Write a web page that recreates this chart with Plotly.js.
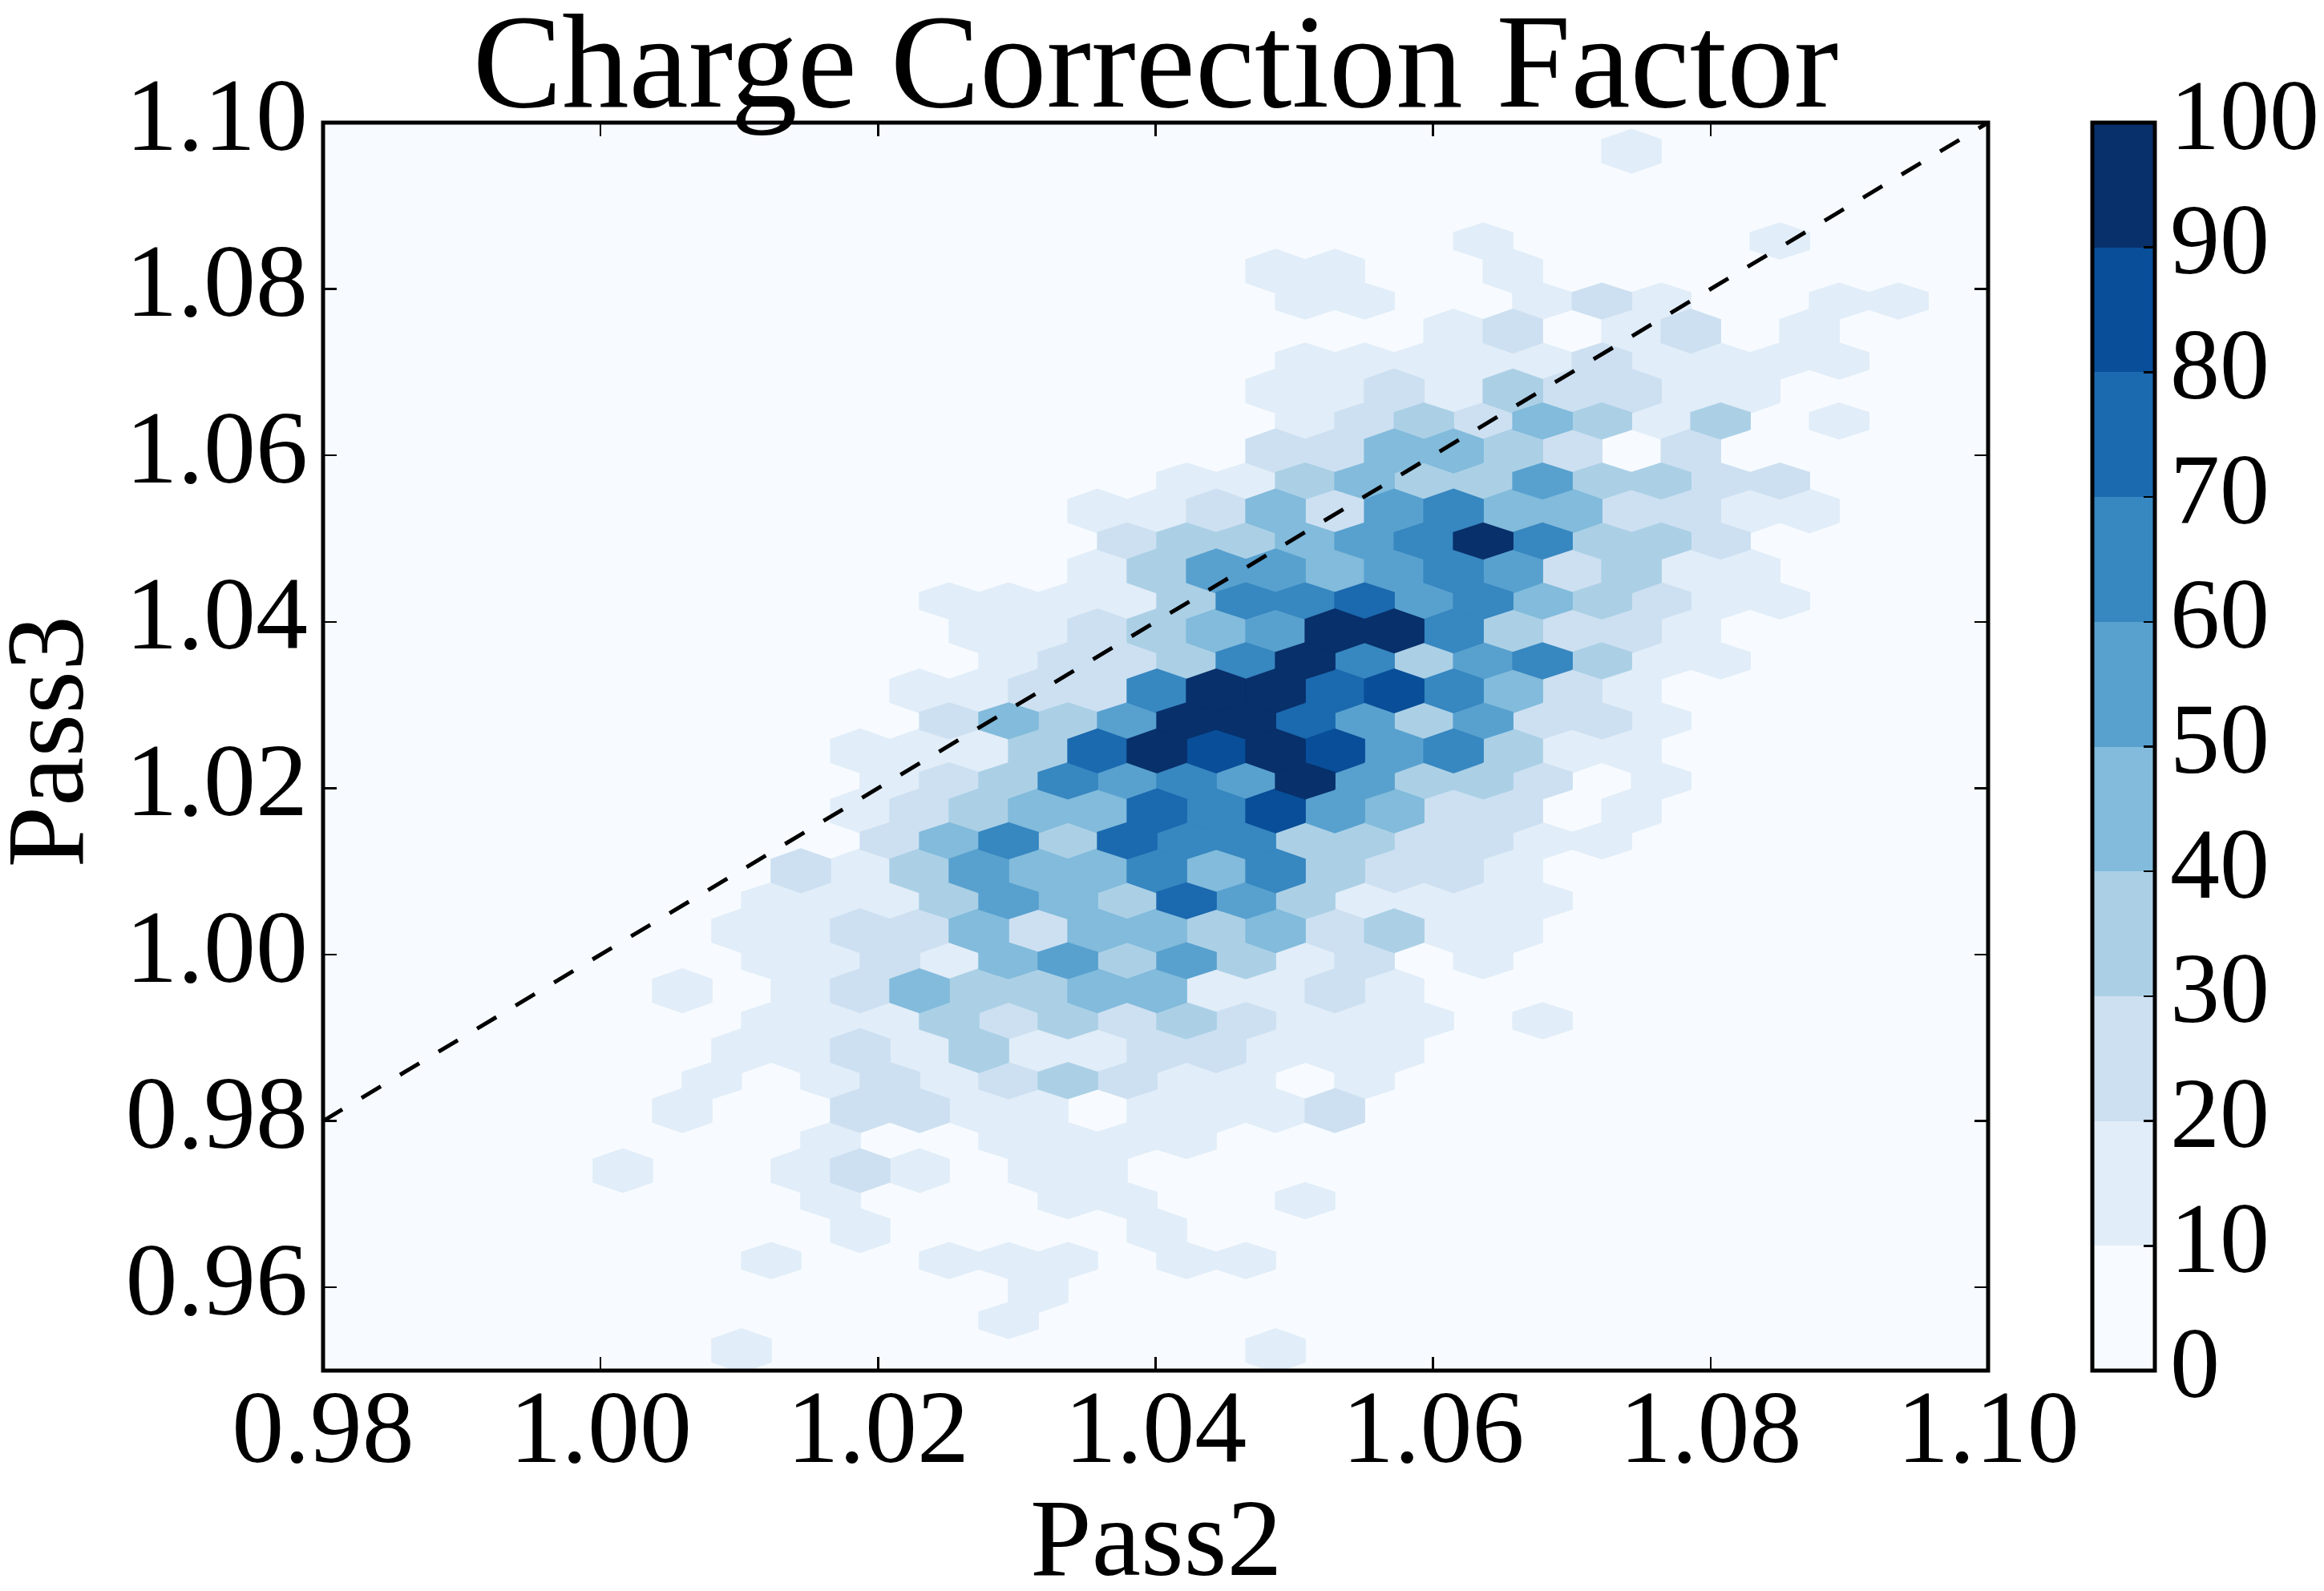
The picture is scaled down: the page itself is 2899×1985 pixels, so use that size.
<!DOCTYPE html>
<html>
<head>
<meta charset="utf-8">
<script src="https://cdn.plot.ly/plotly-3.0.1.min.js"></script>
<style>html,body{margin:0;padding:0;background:#fff}#chart{width:2899px;height:1985px}</style>
</head>
<body>
<div id="chart"></div>
<script>
const titleText = "Charge Correction Factor";
const xTitle = "Pass2";
const yTitle = "Pass3";
const xTicks = [0.98, 1.00, 1.02, 1.04, 1.06, 1.08, 1.10];
const yTicks = [0.96, 0.98, 1.00, 1.02, 1.04, 1.06, 1.08, 1.10];
const colorTicks = [0, 10, 20, 30, 40, 50, 60, 70, 80, 90, 100];
const binColors = ["#f7fbff","#e1edf8","#cde0f1","#abd0e6","#82bbdb","#58a1cf","#3787c0","#1b69af","#084e98","#08306b"];

// Hexbin lattice
const originX = 1.0743, originY = 1.09657;
const stepX = 0.002138, stepY = 0.003604;

// Row number, first column number in that row, and estimated count in every second column from there
const rowIndex = [0,3,4,5,6,7,8,9,10,11,12,13,14,15,16,17,18,19,20,21,22,23,24,25,26,27,28,29,30,31,32,33,34,35,36,37,38,39,40];
const rowFirstColumn = [0,-5,-12,-11,-6,-11,-12,-11,-12,-15,-18,-17,-18,-23,-22,-21,-24,-23,-26,-25,-26,-25,-28,-29,-30,-29,-32,-29,-30,-31,-32,-27,-34,-27,-26,-29,-20,-21,-30];
const rowCounts = [
 [15],
 [15,0,0,0,0,15],
 [15,15,0,0,15],
 [15,15,0,0,15,25,15,0,0,15,15],
 [15,25,0,15,25,0,15],
 [15,15,15,15,15,25,15,15,15,15],
 [15,15,25,15,35,25,25,15,15],
 [15,25,35,25,45,35,15,35,0,15],
 [25,25,45,45,35,25,0,25],
 [15,15,35,45,35,35,55,35,35,25,25],
 [15,15,25,45,25,55,65,45,45,25,25,15,15],
 [25,35,35,45,55,65,95,65,35,35,25],
 [15,35,55,55,45,55,65,55,25,35,15,15],
 [15,15,15,15,35,65,65,75,55,65,45,35,25,15,15],
 [15,15,25,35,45,55,95,95,65,35,25,25,15],
 [15,25,25,35,65,95,65,35,55,65,35,15,15],
 [15,15,25,25,65,95,95,75,85,65,45,25,15],
 [25,45,35,55,95,95,75,55,35,55,25,25,15],
 [15,15,15,35,75,95,85,95,85,55,65,35,15,15],
 [15,25,35,65,55,65,55,95,55,35,35,25,0,15],
 [15,25,35,45,45,75,65,85,55,45,25,25,0,15],
 [25,45,65,35,75,65,65,35,35,25,25,15,15],
 [25,15,35,55,45,45,65,45,65,35,25,25,15],
 [15,15,15,35,55,45,35,75,55,35,15,15,15,15],
 [15,15,25,25,45,25,45,45,35,45,25,35,15,15],
 [15,15,25,15,45,55,35,55,35,15,25,0,15],
 [15,0,15,25,45,35,35,45,45,15,15,25,15],
 [15,15,15,35,25,35,25,35,25,15,15,15,0,15],
 [15,15,25,15,35,15,15,25,25,15,15,15],
 [15,0,15,25,15,25,35,25,15,15,0,15],
 [15,0,0,25,25,15,15,0,15,15,15,25],
 [15,0,0,15,15,15,15],
 [15,0,0,15,25,15,0,15,15],
 [15,0,0,0,15,15,0,0,15],
 [15,0,0,0,0,15],
 [15,0,0,15,15,15,0,15,15],
 [15],
 [15],
 [15,0,0,0,0,0,0,0,0,15]
];

// Hexagon shape in data units; alternate rows differ slightly in the reference
const halfWidth = stepX;
const evenTip = 0.00263, evenSide = 0.00138;
const oddTip = 0.00216, oddSide = 0.00101;

const levelX = binColors.map(() => []);
const levelY = binColors.map(() => []);
const centerX = [], centerY = [], centerCount = [];

rowIndex.forEach((r, i) => {
  rowCounts[i].forEach((count, k) => {
    if (count < 10) return;
    const c = rowFirstColumn[i] + 2 * k;
    const cx = originX + c * stepX;
    const cy = originY - r * stepY;
    const tip = r % 2 === 0 ? evenTip : oddTip;
    const side = r % 2 === 0 ? evenSide : oddSide;
    const lv = Math.min(Math.floor(count / 10), binColors.length - 1);
    levelX[lv].push(cx + halfWidth, cx + halfWidth, cx, cx - halfWidth, cx - halfWidth, cx, cx + halfWidth, null);
    levelY[lv].push(cy - side, cy + side, cy + tip, cy + side, cy - side, cy - tip, cy - side, null);
    centerX.push(cx); centerY.push(cy); centerCount.push(count);
  });
});

const discreteScale = [];
binColors.forEach((col, i) => {
  discreteScale.push([i / binColors.length, col]);
  discreteScale.push([(i + 1) / binColors.length, col]);
});

const traces = [{
  type: "scatter", mode: "markers", x: centerX, y: centerY, hoverinfo: "skip", showlegend: false,
  marker: {
    size: 1, color: centerCount, cmin: 0, cmax: 100, colorscale: discreteScale, showscale: true,
    colorbar: {
      x: 1.0626, xref: "paper", xanchor: "left", xpad: 0, y: 0, yref: "paper", yanchor: "bottom", ypad: 0,
      len: 1, lenmode: "fraction", thickness: 77.5, thicknessmode: "pixels",
      outlinecolor: "#000", outlinewidth: 5, borderwidth: 0,
      tickmode: "array", tickvals: colorTicks, showticklabels: false,
      ticks: "inside", ticklen: 16, tickwidth: 2.5, tickcolor: "#000"
    }
  }
}];

binColors.forEach((col, i) => {
  if (levelX[i].length === 0) return;
  traces.push({
    type: "scatter", mode: "lines", x: levelX[i], y: levelY[i], fill: "toself", fillcolor: col,
    line: {color: col, width: 1.5}, hoverinfo: "skip", showlegend: false, connectgaps: false
  });
});

traces.push({
  type: "scatter", mode: "lines", x: [0.98, 1.10], y: [0.98, 1.10], hoverinfo: "skip", showlegend: false,
  line: {color: "#000", width: 5, dash: "28px,28px"}
});

const axisFont = {family: "Liberation Serif", size: 130, color: "#000"};
const axisTitleFont = {family: "Liberation Serif", size: 138, color: "#000"};

const colorLabels = colorTicks.map(v => ({
  text: String(v), xref: "paper", yref: "paper", x: 1.1087, y: v / 100, xanchor: "left", yanchor: "middle", yshift: 9,
  showarrow: false, borderpad: 0, font: {family: "Liberation Serif", size: 124, color: "#000"}
}));

const axisLabels = [
  {text: xTitle, xref: "paper", yref: "paper", x: 0.5, y: -0.1338, xanchor: "center", yanchor: "middle",
   showarrow: false, borderpad: 0, font: axisTitleFont},
  {text: yTitle, xref: "paper", yref: "paper", x: -0.167, y: 0.504, xanchor: "center", yanchor: "middle", textangle: -90,
   showarrow: false, borderpad: 0, font: axisTitleFont}
];

const layout = {
  width: 2899, height: 1985,
  paper_bgcolor: "#fff", plot_bgcolor: binColors[0],
  margin: {l: 403.2, r: 419.1, t: 152.5, b: 275.3, pad: 0, autoexpand: false},
  showlegend: false,
  title: {text: titleText, font: {family: "Liberation Serif", size: 167, color: "#000"}, x: 0.5, xanchor: "center", xref: "paper", y: 0.933, yanchor: "bottom", yref: "container"},
  shapes: [{type: "rect", xref: "paper", yref: "paper", x0: 0, x1: 1, y0: 0, y1: 1, line: {color: "#000", width: 5}, fillcolor: "rgba(0,0,0,0)", layer: "above"}],
  annotations: colorLabels.concat(axisLabels),
  xaxis: {
    range: [0.98, 1.10], tickmode: "array", tickvals: xTicks, ticktext: xTicks.map(v => v.toFixed(2)),
    ticks: "inside", ticklen: 17, tickwidth: 2.5, tickcolor: "#000", mirror: "allticks",
    showline: false, showgrid: false, zeroline: false,
    tickfont: axisFont, ticklabelstandoff: -17, automargin: false
  },
  yaxis: {
    range: [0.95, 1.10], tickmode: "array", tickvals: yTicks, ticktext: yTicks.map(v => v.toFixed(2)),
    ticks: "inside", ticklen: 17, tickwidth: 2.5, tickcolor: "#000", mirror: "allticks",
    showline: false, showgrid: false, zeroline: false,
    tickfont: axisFont, ticklabelstandoff: 18, ticklabelshift: -12, automargin: false
  }
};

Plotly.newPlot("chart", traces, layout, {staticPlot: true, displayModeBar: false});
</script>
</body>
</html>
